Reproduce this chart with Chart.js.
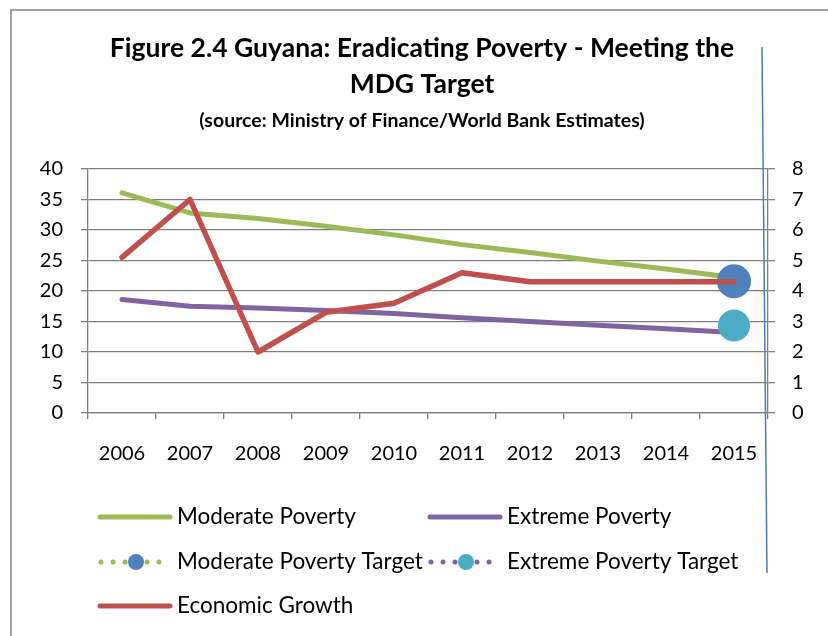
<!DOCTYPE html>
<html lang="en">
<head>
  <meta charset="UTF-8">
  <title>Guyana: Eradicating Poverty</title>
  <style>
    body {
      margin: 0;
      padding: 0;
      background: #fff;
      overflow: hidden;
    }
    .chart-box {
      position: relative;
      width: 828px;
      height: 636px;
    }
  </style>
  <script src="https://cdn.jsdelivr.net/npm/chart.js"></script>
</head>
<body>
  <div class="chart-box">
    <canvas id="povertyChart"></canvas>
  </div>

  <script>
    // data
    const years = ['2006', '2007', '2008', '2009', '2010', '2011', '2012', '2013', '2014', '2015'];
    const moderatePoverty = [36.1, 32.8, 31.9, 30.6, 29.2, 27.6, 26.3, 24.9, 23.6, 22.2];
    const extremePoverty = [18.6, 17.5, 17.2, 16.8, 16.3, 15.6, 15.0, 14.4, 13.8, 13.2];
    const moderateTarget = [null, null, null, null, null, null, null, null, null, 21.6];
    const extremeTarget = [null, null, null, null, null, null, null, null, null, 14.35];
    const economicGrowth = [5.1, 7.0, 2.0, 3.3, 3.6, 4.6, 4.3, 4.3, 4.3, 4.3];

    const FONT = 'Lato';
    const gridGray = '#808080';

    // frame + the stray blue rule from the original document
    const decorPlugin = {
      id: 'decor',
      beforeDraw(chart) {
        const ctx = chart.ctx;
        ctx.save();
        ctx.fillStyle = '#fff';
        ctx.fillRect(0, 0, chart.width, chart.height);
        ctx.strokeStyle = '#a0a0a0';
        ctx.lineWidth = 2;
        ctx.strokeRect(11, 10, 900, 700);
        ctx.restore();
      },
      afterDraw(chart) {
        const ctx = chart.ctx;
        ctx.save();
        ctx.strokeStyle = '#4a7ebb';
        ctx.lineWidth = 1.5;
        ctx.beginPath();
        ctx.moveTo(762, 47);
        ctx.lineTo(767, 573);
        ctx.stroke();
        ctx.restore();
      }
    };

    // two-column legend like the Excel one
    const gridLegend = {
      id: 'gridLegend',
      afterDraw(chart) {
        const ctx = chart.ctx;
        const cols = [100, 430];
        const rows = [517, 562, 606];
        ctx.save();
        ctx.font = '22.5px ' + FONT;
        ctx.textBaseline = 'middle';
        chart.data.datasets.forEach((ds, i) => {
          const x = cols[i % 2];
          const y = rows[Math.floor(i / 2)];
          if (ds.borderDash) {
            ctx.fillStyle = ds.borderColor;
            [1, 13, 25, 47, 59].forEach(dx => {
              ctx.beginPath();
              ctx.arc(x + dx, y, 2.5, 0, Math.PI * 2);
              ctx.fill();
            });
            ctx.fillStyle = ds.pointBackgroundColor;
            ctx.beginPath();
            ctx.arc(x + 36, y, 8, 0, Math.PI * 2);
            ctx.fill();
          } else {
            ctx.strokeStyle = ds.borderColor;
            ctx.lineWidth = 5;
            ctx.lineCap = 'round';
            ctx.beginPath();
            ctx.moveTo(x, y);
            ctx.lineTo(x + 70, y);
            ctx.stroke();
          }
          ctx.fillStyle = '#000';
          ctx.fillText(ds.label, x + 77, y);
        });
        ctx.restore();
      }
    };

    const tickFont = { family: FONT, size: 20 };

    new Chart(document.getElementById('povertyChart'), {
      type: 'line',
      data: {
        labels: years,
        datasets: [
          {
            label: 'Moderate Poverty',
            data: moderatePoverty,
            yAxisID: 'y',
            borderColor: '#9bbb59',
            borderWidth: 5,
            pointRadius: 0,
            order: 4
          },
          {
            label: 'Extreme Poverty',
            data: extremePoverty,
            yAxisID: 'y',
            borderColor: '#8064a2',
            borderWidth: 5,
            pointRadius: 0,
            order: 3
          },
          {
            label: 'Moderate Poverty Target',
            data: moderateTarget,
            yAxisID: 'y',
            borderColor: '#9bbb59',
            borderDash: [2, 8],
            borderWidth: 4,
            pointRadius: 15,
            pointBackgroundColor: '#4f81bd',
            pointBorderColor: '#4f81bd',
            order: 2
          },
          {
            label: 'Extreme Poverty Target',
            data: extremeTarget,
            yAxisID: 'y',
            borderColor: '#8064a2',
            borderDash: [2, 8],
            borderWidth: 4,
            pointRadius: 14,
            pointBackgroundColor: '#4bacc6',
            pointBorderColor: '#4bacc6',
            order: 1
          },
          {
            label: 'Economic Growth',
            data: economicGrowth,
            yAxisID: 'y1',
            borderColor: '#c0504d',
            borderWidth: 5.5,
            pointRadius: 0,
            order: 0
          }
        ]
      },
      options: {
        responsive: true,
        maintainAspectRatio: false,
        animation: false,
        layout: { padding: { left: 16, right: 0, top: 0, bottom: 0 } },
        elements: {
          line: { tension: 0, borderJoinStyle: 'round', borderCapStyle: 'round' }
        },
        plugins: {
          legend: { display: false },
          tooltip: { enabled: false },
          title: {
            display: true,
            text: ['Figure 2.4 Guyana: Eradicating Poverty - Meeting the', 'MDG Target'],
            color: '#000',
            font: { family: FONT, size: 26.5, weight: 'bold', lineHeight: 36 / 26.5 },
            padding: { top: 30, bottom: 9 }
          },
          subtitle: {
            display: true,
            text: '(source: Ministry of Finance/World Bank Estimates)',
            color: '#000',
            font: { family: FONT, size: 19.5, weight: 'bold', lineHeight: 20 / 19.5 },
            padding: { top: 0, bottom: 38 }
          }
        },
        scales: {
          x: {
            offset: true,
            grid: { offset: true, drawOnChartArea: false, tickLength: 6, color: gridGray, lineWidth: 1.3 },
            border: { color: gridGray, width: 1.3 },
            ticks: { font: tickFont, color: '#000', padding: 23, maxRotation: 0 },
            afterFit(scale) { scale.height = 223; }
          },
          y: {
            position: 'left',
            min: 0,
            max: 40,
            ticks: { stepSize: 5, font: tickFont, color: '#000', padding: 18 },
            grid: { color: gridGray, tickLength: 7, lineWidth: 1.3 },
            border: { color: gridGray, width: 1.3 },
            afterFit(scale) { scale.width = 72; }
          },
          y1: {
            position: 'right',
            min: 0,
            max: 8,
            ticks: { stepSize: 1, font: tickFont, color: '#000', padding: 17 },
            grid: { drawOnChartArea: false, tickLength: 7, color: gridGray, lineWidth: 1.3 },
            border: { color: gridGray, width: 1.3 },
            afterFit(scale) { scale.width = 60; }
          }
        }
      },
      plugins: [decorPlugin, gridLegend]
    });
  </script>
</body>
</html>
